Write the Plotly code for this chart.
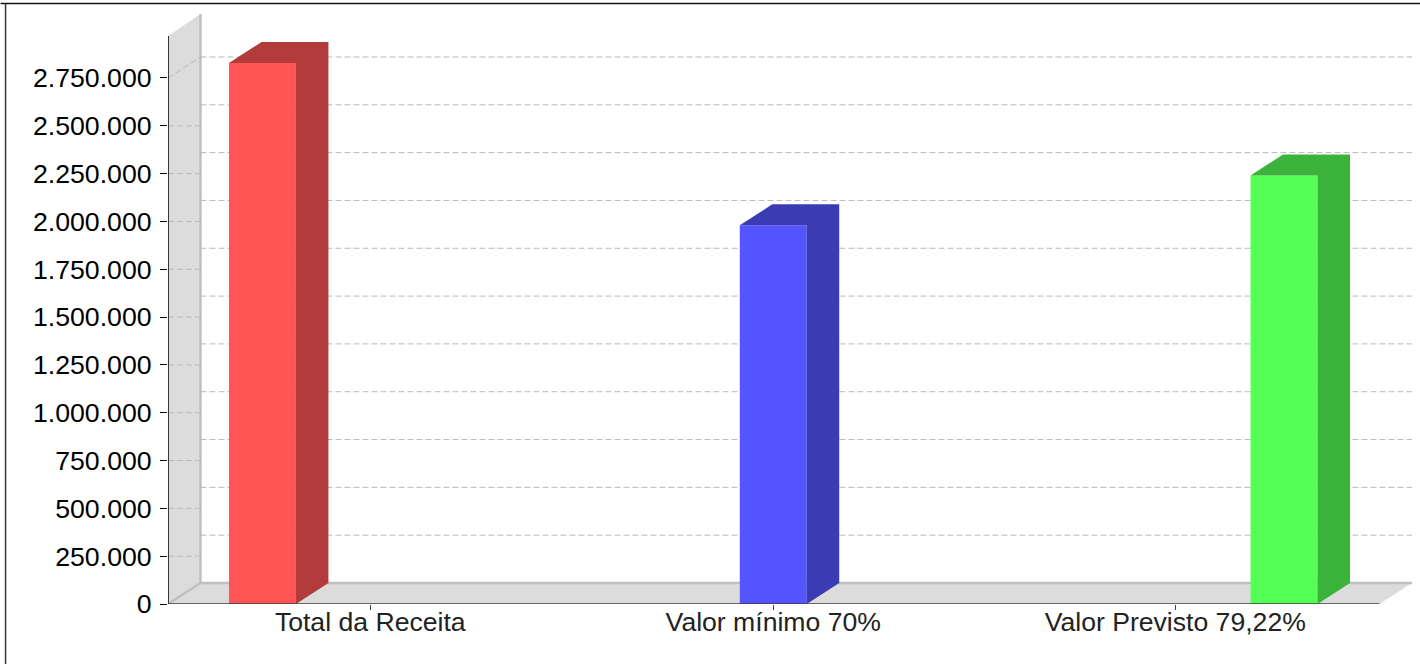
import plotly.graph_objects as go

categories = ["Total da Receita", "Valor mínimo 70%", "Valor Previsto 79,22%"]
values = [2828000, 1979600, 2240400]
face_colors = ["#FF5555", "#5555FF", "#55FF55"]
side_colors = ["#B33B3B", "#3B3BB3", "#3BB33B"]
tick_values = list(range(0, 2750001, 250000))
tick_labels = ["0", "250.000", "500.000", "750.000", "1.000.000", "1.250.000", "1.500.000",
               "1.750.000", "2.000.000", "2.250.000", "2.500.000", "2.750.000"]
label_positions = [0.211, 1.0, 1.787]

W, H = 1420, 664
L, R, T, B = 167.5, 1412, 14, 604
PX_X = 511.0          # pixels per category
PX_Y = 47.82 / 250000 # pixels per value unit
X0 = 262.0            # pixel of first bar centre
BAR_W = 67 / PX_X
DX = 32.5 / PX_X      # depth in x units
DY = 21 / PX_Y        # depth in y units
x_lo = (L - X0) / PX_X
x_hi = (R - X0) / PX_X
x_front_end = (1379.5 - X0) / PX_X
y_hi = (B - T) / PX_Y
y_axis_top = (B - 36) / PX_Y

def poly(xs, ys):
    return "M" + "L".join(f"{a},{b}" for a, b in zip(xs, ys)) + "Z"

shapes = []
# wall and floor
shapes.append(dict(type="path", layer="below", xref="x", yref="y", line=dict(width=0), fillcolor="#DCDCDC",
                   path=poly([x_lo, x_lo + DX, x_lo + DX, x_lo], [0, DY, y_hi, y_axis_top])))
shapes.append(dict(type="path", layer="below", xref="x", yref="y", line=dict(width=0), fillcolor="#DCDCDC",
                   path=poly([x_lo, x_lo + DX, x_hi, x_front_end], [0, DY, DY, 0])))
# wall edges
edge = dict(color="#C0C0C0", width=2.5)
shapes.append(dict(type="line", layer="below", x0=x_lo + DX, x1=x_lo + DX, y0=DY, y1=y_hi, line=edge))
shapes.append(dict(type="line", layer="below", x0=x_lo + DX, x1=x_hi, y0=DY, y1=DY, line=edge))
shapes.append(dict(type="line", layer="below", x0=x_lo, x1=x_lo + DX, y0=0, y1=DY, line=edge))
# grid lines: flat on the wall, slanted only for the top one
grid = dict(color="#BABABA", width=1, dash="6px,3px")
for v in tick_values:
    y_end = v + DY if v == tick_values[-1] else v
    shapes.append(dict(type="line", layer="below", x0=x_lo, x1=x_lo + DX, y0=v, y1=y_end, line=grid))
    if v:
        shapes.append(dict(type="line", layer="below", x0=x_lo + DX, x1=x_hi, y0=v + DY, y1=v + DY, line=grid))
# axis lines
shapes.append(dict(type="line", layer="above", x0=x_lo, x1=x_lo, y0=0, y1=y_axis_top, line=dict(color="#000", width=1.5)))
shapes.append(dict(type="line", layer="above", x0=x_lo, x1=x_front_end, y0=0, y1=0, line=dict(color="#404040", width=1.5)))
# outer frame, paper coordinates
def px(v): return (v - L) / (R - L)
def py(v): return (B - v) / (B - T)
shapes.append(dict(type="line", xref="paper", yref="paper", x0=px(0), x1=px(W), y0=py(3.5), y1=py(3.5), line=dict(color="#111", width=1.5)))
shapes.append(dict(type="line", xref="paper", yref="paper", x0=px(5), x1=px(5), y0=py(3.5), y1=py(H), line=dict(color="#333", width=1.5)))

fig = go.Figure()
for i, (v, fc, sc) in enumerate(zip(values, face_colors, side_colors)):
    fig.add_trace(go.Bar(x=[i], y=[v], width=BAR_W, marker=dict(color=fc, line=dict(width=0)),
                         showlegend=False, hoverinfo="skip"))
    l, r = i - BAR_W / 2, i + BAR_W / 2
    fig.add_trace(go.Scatter(x=[l, l + DX, r + DX, r + DX, r, r, l], y=[v, v + DY, v + DY, DY, 0, v, v], mode="lines",
                             fill="toself", fillcolor=sc, line=dict(width=0), showlegend=False, hoverinfo="skip"))

family = "Liberation Sans, Arial, sans-serif"
fig.update_layout(
    width=W, height=H, autosize=False, paper_bgcolor="#FFFFFF", plot_bgcolor="#FFFFFF",
    margin=dict(l=L, r=W - R, t=T, b=H - B, pad=0), shapes=shapes, showlegend=False,
    xaxis=dict(range=[x_lo, x_hi], tickmode="array", tickvals=label_positions, ticktext=categories,
               ticks="outside", ticklen=5, tickcolor="#404040", ticklabelstandoff=-11,
               tickfont=dict(size=26.6, color="#222222", family=family),
               showgrid=False, zeroline=False, showline=False),
    yaxis=dict(range=[0, y_hi], tickmode="array", tickvals=tick_values, ticktext=tick_labels,
               ticks="outside", ticklen=7, tickcolor="#000000", ticklabelstandoff=3,
               tickfont=dict(size=26.7, color="#000000", family=family),
               showgrid=False, zeroline=False, showline=False),
)
fig.write_html("out.html", config={"displayModeBar": False},
               post_script="document.body.style.margin='0';document.body.style.overflow='hidden';")
